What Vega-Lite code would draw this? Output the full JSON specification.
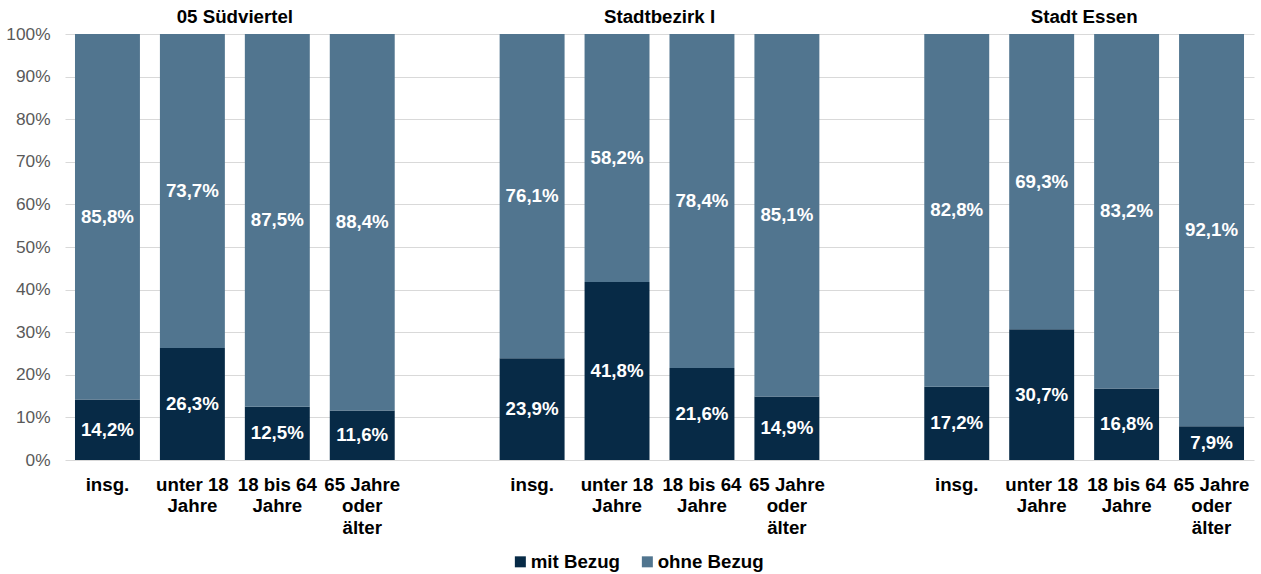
{
  "$schema": "https://vega.github.io/schema/vega-lite/v6.json",
  "width": 1189,
  "height": 426,
  "autosize": {"type": "none"},
  "padding": {"left": 65, "top": 34, "right": 7, "bottom": 114},
  "background": "white",
  "config": {
    "locale": {"number": {"decimal": ",", "thousands": ".", "grouping": [3], "currency": ["", " €"]}},
    "font": "Liberation Sans",
    "view": {"stroke": null}
  },
  "datasets": {
    "werte": [
      {"key": "A insg.", "typ": "mit Bezug", "value": 0.142},
      {"key": "A insg.", "typ": "ohne Bezug", "value": 0.858},
      {"key": "A unter 18|Jahre", "typ": "mit Bezug", "value": 0.263},
      {"key": "A unter 18|Jahre", "typ": "ohne Bezug", "value": 0.737},
      {"key": "A 18 bis 64|Jahre", "typ": "mit Bezug", "value": 0.125},
      {"key": "A 18 bis 64|Jahre", "typ": "ohne Bezug", "value": 0.875},
      {"key": "A 65 Jahre|oder|älter", "typ": "mit Bezug", "value": 0.116},
      {"key": "A 65 Jahre|oder|älter", "typ": "ohne Bezug", "value": 0.884},
      {"key": "B insg.", "typ": "mit Bezug", "value": 0.239},
      {"key": "B insg.", "typ": "ohne Bezug", "value": 0.761},
      {"key": "B unter 18|Jahre", "typ": "mit Bezug", "value": 0.418},
      {"key": "B unter 18|Jahre", "typ": "ohne Bezug", "value": 0.582},
      {"key": "B 18 bis 64|Jahre", "typ": "mit Bezug", "value": 0.216},
      {"key": "B 18 bis 64|Jahre", "typ": "ohne Bezug", "value": 0.784},
      {"key": "B 65 Jahre|oder|älter", "typ": "mit Bezug", "value": 0.149},
      {"key": "B 65 Jahre|oder|älter", "typ": "ohne Bezug", "value": 0.851},
      {"key": "C insg.", "typ": "mit Bezug", "value": 0.172},
      {"key": "C insg.", "typ": "ohne Bezug", "value": 0.828},
      {"key": "C unter 18|Jahre", "typ": "mit Bezug", "value": 0.307},
      {"key": "C unter 18|Jahre", "typ": "ohne Bezug", "value": 0.693},
      {"key": "C 18 bis 64|Jahre", "typ": "mit Bezug", "value": 0.168},
      {"key": "C 18 bis 64|Jahre", "typ": "ohne Bezug", "value": 0.832},
      {"key": "C 65 Jahre|oder|älter", "typ": "mit Bezug", "value": 0.079},
      {"key": "C 65 Jahre|oder|älter", "typ": "ohne Bezug", "value": 0.921}
    ],
    "titel": [
      {"key": "A unter 18|Jahre", "titel": "05 Südviertel"},
      {"key": "B unter 18|Jahre", "titel": "Stadtbezirk I"},
      {"key": "C unter 18|Jahre", "titel": "Stadt Essen"}
    ]
  },
  "layer": [
    {
      "data": {"name": "werte"},
      "mark": {"type": "bar"},
      "encoding": {
        "x": {
          "field": "key",
          "type": "nominal",
          "sort": null,
          "scale": {
            "domain": ["A insg.", "A unter 18|Jahre", "A 18 bis 64|Jahre", "A 65 Jahre|oder|älter", "G1",
                       "B insg.", "B unter 18|Jahre", "B 18 bis 64|Jahre", "B 65 Jahre|oder|älter", "G2",
                       "C insg.", "C unter 18|Jahre", "C 18 bis 64|Jahre", "C 65 Jahre|oder|älter"],
            "paddingInner": 0.2353,
            "paddingOuter": 0.1176
          },
          "axis": {
            "title": null,
            "labelExpr": "split(substring(datum.value, 2), '|')",
            "labelAngle": 0,
            "labelFontSize": 18.7,
            "labelFontWeight": "bold",
            "labelColor": "black",
            "labelLineHeight": 21.5,
            "labelPadding": 15,
            "labelOverlap": false,
            "labelBound": false,
            "domain": false,
            "ticks": false,
            "grid": false
          }
        },
        "y": {
          "field": "value",
          "type": "quantitative",
          "stack": "zero",
          "scale": {"domain": [0, 1]},
          "axis": {
            "title": null,
            "format": ".0%",
            "values": [0, 0.1, 0.2, 0.3, 0.4, 0.5, 0.6, 0.7, 0.8, 0.9, 1],
            "labelFontSize": 17.3,
            "labelColor": "#595959",
            "labelPadding": 15,
            "domain": false,
            "ticks": false,
            "grid": true,
            "gridColor": "#d9d9d9",
            "gridWidth": 1
          }
        },
        "color": {
          "field": "typ",
          "type": "nominal",
          "scale": {"domain": ["mit Bezug", "ohne Bezug"], "range": ["#072a46", "#51758f"]},
          "legend": {
            "title": null,
            "orient": "none",
            "legendX": 446,
            "legendY": 518,
            "direction": "horizontal",
            "symbolType": "square",
            "symbolSize": 121,
            "symbolStrokeWidth": 0,
            "labelFontSize": 18.7,
            "labelFontWeight": "bold",
            "labelColor": "black",
            "labelOffset": 1,
            "columnPadding": 18
          }
        },
        "order": {"field": "typ", "sort": "ascending"}
      }
    },
    {
      "data": {"name": "werte"},
      "transform": [
        {"stack": "value", "groupby": ["key"], "sort": [{"field": "typ", "order": "ascending"}], "as": ["y0", "y1"]},
        {"calculate": "(datum.y0 + datum.y1) / 2", "as": "mid"}
      ],
      "mark": {"type": "text", "color": "white", "fontWeight": "bold", "fontSize": 18.7, "baseline": "middle"},
      "encoding": {
        "x": {"field": "key", "type": "nominal", "sort": null},
        "y": {"field": "mid", "type": "quantitative"},
        "text": {"field": "value", "type": "quantitative", "format": ".1%"}
      }
    },
    {
      "data": {"name": "titel"},
      "mark": {"type": "text", "fontWeight": "bold", "fontSize": 18.7, "dx": 42.5, "baseline": "alphabetic", "color": "black"},
      "encoding": {
        "x": {"field": "key", "type": "nominal", "sort": null},
        "y": {"datum": 1.026, "type": "quantitative"},
        "text": {"field": "titel", "type": "nominal"}
      }
    }
  ]
}
